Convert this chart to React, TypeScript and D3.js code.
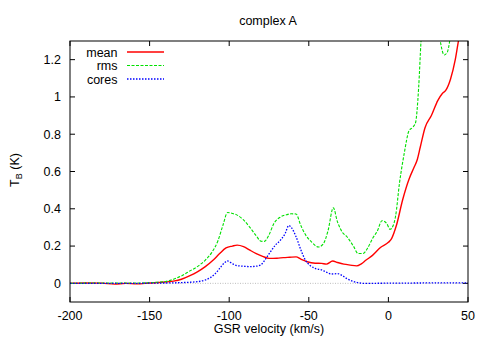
import React from "react";
import * as d3 from "d3";

const title = "complex A";
const xTicks = [-200, -150, -100, -50, 0, 50];
const yTicks = [0, 0.2, 0.4, 0.6, 0.8, 1, 1.2];
const seriesNames = ["mean", "rms", "cores"];

const meanV = [-200, -190, -180, -172, -165, -158, -150, -142, -135, -130, -125, -120, -115, -110, -106, -102, -98, -95, -91, -87, -83, -79, -75, -70, -66, -62, -58, -55, -51, -46, -42, -39, -35, -32, -28, -24, -20, -17, -14, -10, -5, 0, 2, 5, 9, 13, 16, 18, 20, 23, 27, 31, 34, 36, 39, 42, 44, 46];
const meanT = [0, 0.002, 0.001, -0.004, 0.0, -0.003, 0.002, 0.006, 0.012, 0.022, 0.04, 0.062, 0.09, 0.125, 0.16, 0.19, 0.2, 0.205, 0.197, 0.178, 0.16, 0.145, 0.134, 0.135, 0.138, 0.14, 0.142, 0.13, 0.116, 0.108, 0.107, 0.103, 0.12, 0.112, 0.103, 0.098, 0.094, 0.105, 0.125, 0.15, 0.192, 0.22, 0.24, 0.31, 0.45, 0.56, 0.62, 0.66, 0.73, 0.835, 0.9, 0.98, 1.02, 1.035, 1.095, 1.2, 1.3, 1.38];

const rmsV = [-200, -180, -160, -150, -145, -140, -135, -130, -125, -120, -115, -111, -107, -104, -101, -98, -95, -91, -87, -83, -80, -78, -75, -72, -68, -64, -61, -58, -55, -52, -48, -44, -41, -38, -34.6, -32, -29, -26, -22, -19, -16, -13, -10, -7, -4, -1, 1, 3, 4.5, 7, 10, 13, 15, 17, 19, 20.5, 23, 27, 31, 33, 35, 37, 38.5, 40];
const rmsT = [0, 0.002, 0.002, 0.003, 0.006, 0.01, 0.022, 0.04, 0.065, 0.09, 0.125, 0.165, 0.23, 0.31, 0.38, 0.375, 0.366, 0.34, 0.3, 0.255, 0.226, 0.225, 0.26, 0.32, 0.355, 0.368, 0.373, 0.372, 0.31, 0.26, 0.22, 0.195, 0.21, 0.28, 0.405, 0.33, 0.275, 0.25, 0.2, 0.16, 0.16, 0.19, 0.24, 0.28, 0.336, 0.32, 0.29, 0.31, 0.36, 0.54, 0.7, 0.82, 0.835, 0.86, 1.05, 1.3, 1.5, 1.6, 1.4, 1.28, 1.225, 1.24, 1.3, 1.4];

const coresV = [-200, -160, -150, -140, -130, -120, -115, -112, -109, -106, -103, -101, -98, -95, -91, -87, -83, -80, -77, -74, -71, -68, -65, -62.5, -61, -58, -55, -52.5, -49, -46, -42, -39, -36, -32, -29, -26, -22, -18, -15, 0, 20, 50];
const coresT = [0, 0, 0.001, 0.002, 0.004, 0.009, 0.018, 0.03, 0.05, 0.08, 0.11, 0.12, 0.105, 0.095, 0.092, 0.09, 0.092, 0.1, 0.133, 0.17, 0.205, 0.23, 0.265, 0.31, 0.3, 0.25, 0.18, 0.13, 0.095, 0.08, 0.072, 0.06, 0.05, 0.052, 0.042, 0.025, 0.01, 0.002, 0, 0.001, 0.002, 0.003];

const W = 491;
const H = 343;
const L = 70, R = 468, T = 41, B = 302;
const font = "'Liberation Sans', Arial, Helvetica, sans-serif";
const fs = 12.5;

export default function App() {
  const x = d3.scaleLinear().domain([-200, 50]).range([L, R]);
  const y = d3.scaleLinear().domain([-0.1, 1.3]).range([B, T]);
  const line = d3
    .line<[number, number]>()
    .x((d) => x(d[0]))
    .y((d) => y(d[1]))
    .curve(d3.curveMonotoneX);
  const zip = (a: number[], b: number[]) => a.map((v, i) => [v, b[i]] as [number, number]);
  const series = [
    { name: seriesNames[0], d: line(zip(meanV, meanT)) || "", color: "#ff0000", w: 1.4, dash: "none" },
    { name: seriesNames[1], d: line(zip(rmsV, rmsT)) || "", color: "#00e000", w: 1.1, dash: "3,1.5" },
    { name: seriesNames[2], d: line(zip(coresV, coresT)) || "", color: "#0000ff", w: 1.3, dash: "1.5,1.5" },
  ];
  const tl = 5;
  return (
    <svg width={W} height={H} style={{ position: "absolute", left: 0, top: 0, background: "#fff" }} fontFamily={font}>
      <defs>
        <clipPath id="plot">
          <rect x={L} y={T} width={R - L} height={B - T} />
        </clipPath>
      </defs>
      <text x={268} y={25} fontSize={fs} textAnchor="middle">{title}</text>
      <line x1={L} x2={R} y1={y(0)} y2={y(0)} stroke="#a0a0a0" strokeWidth={0.7} strokeDasharray="1,1.5" />
      {xTicks.map((t) => (
        <g key={"x" + t}>
          <line x1={x(t)} x2={x(t)} y1={B} y2={B - tl} stroke="#000" />
          <line x1={x(t)} x2={x(t)} y1={T} y2={T + tl} stroke="#000" />
          <text x={x(t)} y={319.5} fontSize={fs} textAnchor="middle">{t}</text>
        </g>
      ))}
      {yTicks.map((t) => (
        <g key={"y" + t}>
          <line x1={L} x2={L + tl} y1={y(t)} y2={y(t)} stroke="#000" />
          <line x1={R} x2={R - tl} y1={y(t)} y2={y(t)} stroke="#000" />
          <text x={61} y={y(t) + 4.4} fontSize={fs} textAnchor="end">{t}</text>
        </g>
      ))}
      <g clipPath="url(#plot)">
        {series.map((s) => (
          <path key={s.name} d={s.d} fill="none" stroke={s.color} strokeWidth={s.w} strokeDasharray={s.dash} />
        ))}
      </g>
      {series.map((s, i) => (
        <g key={"leg" + s.name}>
          <text x={117.5} y={56.5 + i * 13.5} fontSize={fs} textAnchor="end">{s.name}</text>
          <line x1={127} x2={164} y1={52 + i * 13.5} y2={52 + i * 13.5} stroke={s.color} strokeWidth={s.w} strokeDasharray={s.dash} />
        </g>
      ))}
      <rect x={L} y={T} width={R - L} height={B - T} fill="none" stroke="#000" strokeWidth={1} />
      <text x={269} y={333} fontSize={fs} textAnchor="middle">GSR velocity (km/s)</text>
      <text transform={`translate(19,170) rotate(-90)`} fontSize={fs} textAnchor="middle">
        T<tspan fontSize={9} dy={3}>B</tspan><tspan dy={-3}> (K)</tspan>
      </text>
    </svg>
  );
}
